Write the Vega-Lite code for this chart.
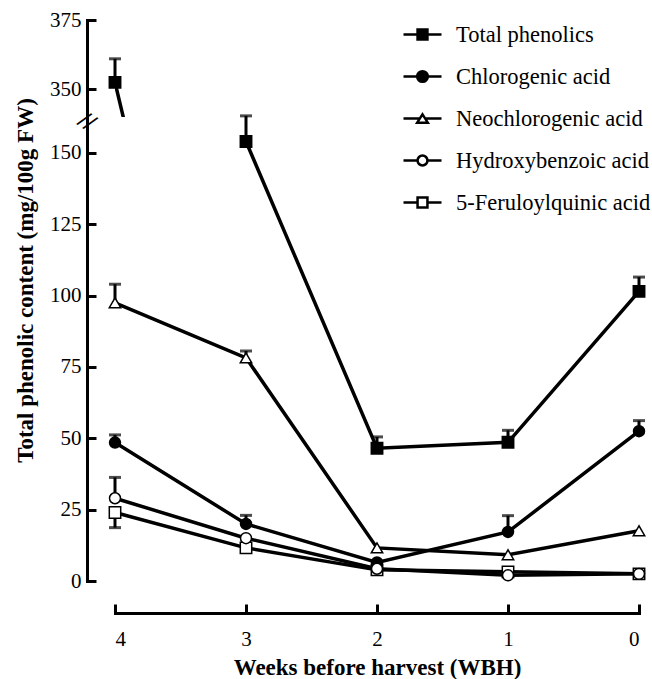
{
  "$schema": "https://vega.github.io/schema/vega-lite/v6.json",
  "padding": {"left": 13, "top": 9, "right": 5, "bottom": 5},
  "background": "white",
  "spacing": 0,
  "bounds": "flush",
  "config": {
    "font": "Liberation Serif",
    "view": {"stroke": null},
    "concat": {"spacing": 0},
    "axis": {
      "domainColor": "black", "domainWidth": 3, "domainCap": "square",
      "tickColor": "black", "tickWidth": 3, "tickSize": -9,
      "labelColor": "black", "labelFontSize": 21, "labelFont": "Liberation Serif",
      "grid": false,
      "titleColor": "black", "titleFontWeight": "bold", "titleFontSize": 23, "titleFont": "Liberation Serif"
    },
    "legend": {
      "title": null, "orient": "none", "legendX": 287, "legendY": -6, "symbolSize": 1444,
      "symbolOpacity": 1, "symbolStrokeWidth": 2.5,
      "labelFontSize": 22.5, "labelFont": "Liberation Serif", "labelColor": "black", "labelOffset": 13, "rowPadding": 10, "padding": 0, "labelLimit": 400
    }
  },
  "datasets": {
    "series": [
      {"series": "Total phenolics", "week": 4, "value": 352.5},
      {"series": "Total phenolics", "week": 3, "value": 154},
      {"series": "Total phenolics", "week": 2, "value": 46.5},
      {"series": "Total phenolics", "week": 1, "value": 48.6},
      {"series": "Total phenolics", "week": 0, "value": 101.5},
      {"series": "Chlorogenic acid", "week": 4, "value": 48.5},
      {"series": "Chlorogenic acid", "week": 3, "value": 20},
      {"series": "Chlorogenic acid", "week": 2, "value": 6.5},
      {"series": "Chlorogenic acid", "week": 1, "value": 17.2},
      {"series": "Chlorogenic acid", "week": 0, "value": 52.5},
      {"series": "Neochlorogenic acid", "week": 4, "value": 97.5},
      {"series": "Neochlorogenic acid", "week": 3, "value": 78.2},
      {"series": "Neochlorogenic acid", "week": 2, "value": 11.6},
      {"series": "Neochlorogenic acid", "week": 1, "value": 9.2},
      {"series": "Neochlorogenic acid", "week": 0, "value": 17.6},
      {"series": "Hydroxybenzoic acid", "week": 4, "value": 29},
      {"series": "Hydroxybenzoic acid", "week": 3, "value": 15},
      {"series": "Hydroxybenzoic acid", "week": 2, "value": 4.3},
      {"series": "Hydroxybenzoic acid", "week": 1, "value": 2},
      {"series": "Hydroxybenzoic acid", "week": 0, "value": 2.5},
      {"series": "5-Feruloylquinic acid", "week": 4, "value": 24},
      {"series": "5-Feruloylquinic acid", "week": 3, "value": 11.6},
      {"series": "5-Feruloylquinic acid", "week": 2, "value": 3.9},
      {"series": "5-Feruloylquinic acid", "week": 1, "value": 3.2},
      {"series": "5-Feruloylquinic acid", "week": 0, "value": 2.5}
    ],
    "errs": [
      {"series": "Total phenolics", "week": 4, "value": 352.5, "cap": 361},
      {"series": "Total phenolics", "week": 3, "value": 154, "cap": 163},
      {"series": "Total phenolics", "week": 2, "value": 46.5, "cap": 50.5},
      {"series": "Total phenolics", "week": 1, "value": 48.6, "cap": 52.8},
      {"series": "Total phenolics", "week": 0, "value": 101.5, "cap": 106.5},
      {"series": "Chlorogenic acid", "week": 4, "value": 48.5, "cap": 51.2},
      {"series": "Chlorogenic acid", "week": 3, "value": 20, "cap": 23},
      {"series": "Chlorogenic acid", "week": 1, "value": 17.2, "cap": 22.9},
      {"series": "Chlorogenic acid", "week": 0, "value": 52.5, "cap": 56.2},
      {"series": "Neochlorogenic acid", "week": 4, "value": 97.5, "cap": 104},
      {"series": "Neochlorogenic acid", "week": 3, "value": 78.2, "cap": 80.6},
      {"series": "Hydroxybenzoic acid", "week": 4, "value": 29, "cap": 36.3},
      {"series": "5-Feruloylquinic acid", "week": 4, "value": 24, "cap": 18.7}
    ]
  },
  "resolve": {"scale": {"y": "independent", "x": "shared"}, "axis": {"y": "independent", "x": "independent"}},
  "vconcat": [
    {
      "width": 524,
      "height": 97,
      "layer": [
        {
          "data": {"name": "series"},
          "transform": [{"filter": "datum.series === 'Total phenolics'"}],
          "mark": {"type": "line", "clip": true, "color": "black", "strokeWidth": 3.5},
          "encoding": {
            "x": {"field": "week", "type": "quantitative", "scale": {"domain": [0, 4], "reverse": true, "nice": false}, "axis": null},
            "y": {"field": "value", "type": "quantitative", "scale": {"domain": [340, 375], "nice": false, "zero": false},
                  "axis": {"values": [350, 375], "title": null, "offset": 28, "labelPadding": 15}}
          }
        },
        {
          "data": {"name": "errs"},
          "transform": [{"filter": "datum.value > 300"}],
          "mark": {"type": "rule", "color": "black", "strokeWidth": 3},
          "encoding": {
            "x": {"field": "week", "type": "quantitative", "axis": null},
            "y": {"field": "value", "type": "quantitative", "title": null},
            "y2": {"field": "cap"}
          }
        },
        {
          "data": {"name": "errs"},
          "transform": [{"filter": "datum.value > 300"}],
          "mark": {"type": "tick", "orient": "horizontal", "color": "black", "size": 12, "thickness": 3},
          "encoding": {
            "x": {"field": "week", "type": "quantitative", "axis": null},
            "y": {"field": "cap", "type": "quantitative", "title": null}
          }
        },
        {
          "data": {"name": "series"},
          "transform": [{"filter": "datum.value > 300"}],
          "mark": {"type": "point", "shape": "square", "filled": true, "fill": "black", "opacity": 1, "stroke": "black", "strokeWidth": 1.5, "size": 130},
          "encoding": {
            "x": {"field": "week", "type": "quantitative", "axis": null},
            "y": {"field": "value", "type": "quantitative", "title": null}
          }
        }
      ]
    },
    {
      "width": 524,
      "height": 464,
      "layer": [
        {
          "data": {"name": "series"},
          "transform": [{"filter": "datum.value < 200"}],
          "mark": {"type": "line", "color": "black", "strokeWidth": 3.5},
          "encoding": {
            "x": {"field": "week", "type": "quantitative", "scale": {"domain": [0, 4], "reverse": true, "nice": false},
                  "axis": {"values": [4, 3, 2, 1, 0], "format": "d", "offset": 32, "labelPadding": 24, "title": "Weeks before harvest (WBH)", "titlePadding": 7}},
            "y": {"field": "value", "type": "quantitative", "scale": {"domain": [0, 162.6], "nice": false},
                  "axis": {"values": [0, 25, 50, 75, 100, 125, 150], "offset": 28, "labelPadding": 15, "title": "Total phenolic content (mg/100g FW)", "titleY": 163, "titleX": -62, "titleBaseline": "middle"}},
            "detail": {"field": "series"}
          }
        },
        {
          "data": {"name": "errs"},
          "transform": [{"filter": "datum.value < 200"}],
          "mark": {"type": "rule", "color": "black", "strokeWidth": 3},
          "encoding": {
            "x": {"field": "week", "type": "quantitative"},
            "y": {"field": "value", "type": "quantitative", "title": "Total phenolic content (mg/100g FW)"},
            "y2": {"field": "cap"}
          }
        },
        {
          "data": {"name": "errs"},
          "transform": [{"filter": "datum.value < 200"}],
          "mark": {"type": "tick", "orient": "horizontal", "color": "black", "size": 12, "thickness": 3},
          "encoding": {
            "x": {"field": "week", "type": "quantitative"},
            "y": {"field": "cap", "type": "quantitative", "title": "Total phenolic content (mg/100g FW)"}
          }
        },
        {
          "data": {"name": "series"},
          "transform": [{"filter": "datum.value < 200"}],
          "mark": {"type": "point", "filled": false, "opacity": 0, "stroke": "black", "strokeWidth": 2.5},
          "encoding": {
            "x": {"field": "week", "type": "quantitative"},
            "y": {"field": "value", "type": "quantitative", "title": "Total phenolic content (mg/100g FW)"},
            "shape": {"field": "series", "type": "nominal",
              "scale": {"domain": ["Total phenolics", "Chlorogenic acid", "Neochlorogenic acid", "Hydroxybenzoic acid", "5-Feruloylquinic acid"],
                        "range": ["M-1,0H1M-0.26,-0.26H0.26V0.26H-0.26Z",
                                  "M-1,0H1M-0.28,0A0.28,0.28 0 1,0 0.28,0A0.28,0.28 0 1,0 -0.28,0Z",
                                  "M-1,0H-0.15M0.15,0H1M0,-0.22L0.28,0.22H-0.28Z",
                                  "M-1,0H-0.26M0.26,0H1M-0.26,0A0.26,0.26 0 1,0 0.26,0A0.26,0.26 0 1,0 -0.26,0Z",
                                  "M-1,0H-0.26M0.26,0H1M-0.26,-0.26H0.26V0.26H-0.26Z"]}},
            "fill": {"field": "series", "type": "nominal",
              "scale": {"domain": ["Total phenolics", "Chlorogenic acid", "Neochlorogenic acid", "Hydroxybenzoic acid", "5-Feruloylquinic acid"],
                        "range": ["black", "black", "white", "white", "white"]}}
          }
        },
        {
          "data": {"name": "series"},
          "transform": [{"filter": "datum.value < 200 && (datum.series === 'Total phenolics' || datum.series === '5-Feruloylquinic acid')"}],
          "mark": {"type": "point", "shape": "square", "filled": false, "opacity": 1, "stroke": "black", "strokeWidth": 1.5, "size": 130},
          "encoding": {
            "x": {"field": "week", "type": "quantitative"},
            "y": {"field": "value", "type": "quantitative", "title": "Total phenolic content (mg/100g FW)"},
            "fill": {"field": "series", "type": "nominal"}
          }
        },
        {
          "data": {"name": "series"},
          "transform": [{"filter": "datum.series === 'Chlorogenic acid' || datum.series === 'Hydroxybenzoic acid'"}],
          "mark": {"type": "point", "shape": "circle", "filled": false, "opacity": 1, "stroke": "black", "strokeWidth": 1.5, "size": 120},
          "encoding": {
            "x": {"field": "week", "type": "quantitative"},
            "y": {"field": "value", "type": "quantitative", "title": "Total phenolic content (mg/100g FW)"},
            "fill": {"field": "series", "type": "nominal"}
          }
        },
        {
          "data": {"name": "series"},
          "transform": [{"filter": "datum.series === 'Neochlorogenic acid'"}],
          "mark": {"type": "point", "shape": "triangle-up", "filled": false, "opacity": 1, "stroke": "black", "strokeWidth": 1.5, "size": 130},
          "encoding": {
            "x": {"field": "week", "type": "quantitative"},
            "y": {"field": "value", "type": "quantitative", "title": "Total phenolic content (mg/100g FW)"},
            "fill": {"field": "series", "type": "nominal"}
          }
        },
        {
          "data": {"values": [{"mark": "//"}]},
          "mark": {"type": "text", "fontSize": 26, "fontWeight": "bold", "angle": 35, "color": "black", "baseline": "middle", "align": "center"},
          "encoding": {
            "x": {"datum": 4.214, "type": "quantitative"},
            "y": {"datum": 161, "type": "quantitative"},
            "text": {"field": "mark"}
          }
        }
      ]
    }
  ]
}
